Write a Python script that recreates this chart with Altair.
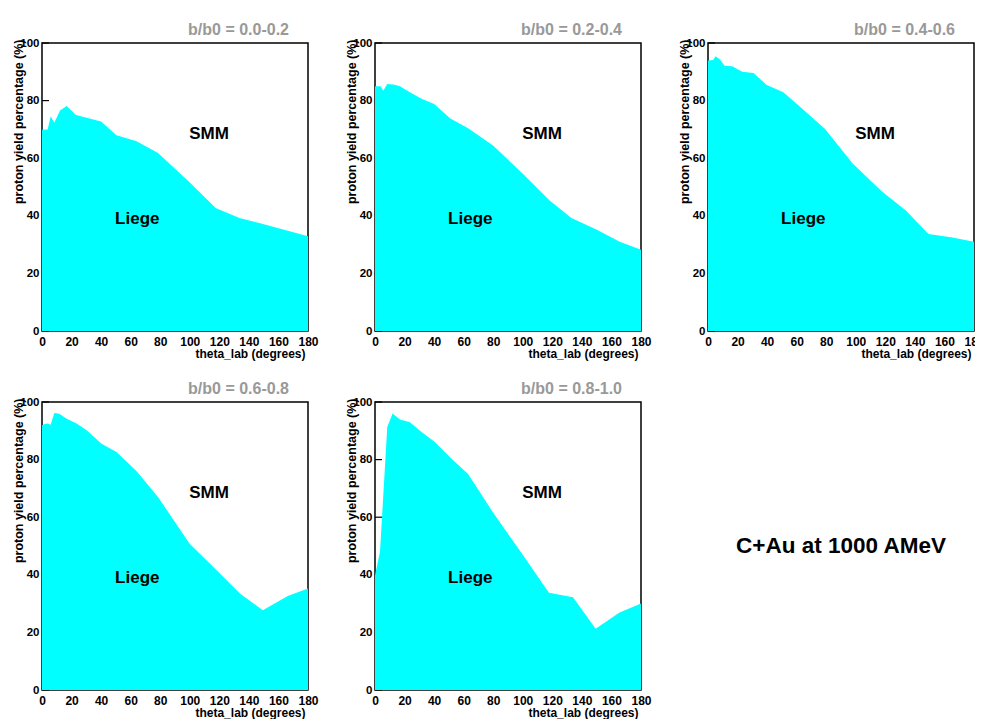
import altair as alt
import pandas as pd

FONT = "Liberation Sans"

panel_titles = ["b/b0 = 0.0-0.2", "b/b0 = 0.2-0.4", "b/b0 = 0.4-0.6",
                "b/b0 = 0.6-0.8", "b/b0 = 0.8-1.0"]

theta_1 = [0, 3.8, 5.9, 8.3, 12.2, 16.7, 23, 40, 50.4, 64, 78.5, 98.8, 117.5, 133.6, 147, 180]
yield_1 = [69.9, 70, 74.6, 72.3, 76.6, 78.1, 75, 72.7, 68, 65.9, 61.8, 52.2, 42.7, 39.2, 37.5, 32.9]

theta_2 = [0, 3.8, 5.6, 8.3, 12.4, 16.9, 23.6, 31.5, 40, 51, 63, 79.9, 100.2, 118.2, 132.9, 149.8, 165.6, 180]
yield_2 = [85, 85, 83.4, 85.8, 85.6, 85, 82.9, 80.6, 78.8, 73.8, 70.4, 64.4, 54.5, 45.3, 39.2, 35.2, 31, 28.2]

theta_3 = [0, 3.4, 5.2, 8.3, 11.2, 16.4, 23.2, 30.8, 39.8, 51, 61.9, 79.2, 97.9, 117.7, 133.9, 149.2, 165.4, 180]
yield_3 = [93.9, 94.1, 95.4, 94.2, 92.1, 91.9, 90, 89.6, 85.4, 82.9, 78, 70.1, 58.2, 48.4, 41.8, 33.7, 32.5, 31]

theta_4 = [0, 2, 3.8, 5.9, 8.3, 11.7, 16.7, 23.4, 30.2, 40.3, 50.4, 63.9, 78.5, 99.9, 117.5, 134.1, 149.4, 166.3, 180]
yield_4 = [91.9, 92.4, 92.5, 92.1, 96.2, 95.9, 94.2, 92.5, 90.2, 85.5, 82.6, 76, 67, 50.8, 41.9, 33.4, 27.7, 32.6, 35.2]

theta_5 = [0, 3.4, 8.3, 11.9, 16.9, 23.6, 31.5, 40.5, 51.8, 63, 79.9, 100.2, 117.7, 134, 149.3, 165.5, 180]
yield_5 = [39.8, 48.1, 91.3, 96, 93.9, 93, 89.6, 86.1, 80.3, 75, 61.6, 46.8, 33.8, 32.2, 21.3, 26.9, 30]

series = [(theta_1, yield_1), (theta_2, yield_2), (theta_3, yield_3),
          (theta_4, yield_4), (theta_5, yield_5)]

x_ticks = [0, 20, 40, 60, 80, 100, 120, 140, 160, 180]
y_ticks = [0, 20, 40, 60, 80, 100]

region_theta = [113, 64.5]
region_pct = [68.3, 38.9]
region_names = ["SMM", "Liege"]

footer_text = ["C+Au at 1000 AMeV"]

W, H = 266, 288


def panel(xs, ys, title):
    df = pd.DataFrame({"theta": xs, "pct": ys})
    xenc = alt.X(
        "theta:Q",
        scale=alt.Scale(domain=[0, 180], nice=False, zero=False),
        axis=alt.Axis(
            values=x_ticks, title="theta_lab (degrees)", grid=False, domain=False,
            ticks=False, labelFlush=False, labelFontSize=12, labelFontWeight="bold",
            labelColor="black", labelFont=FONT, labelPadding=5,
            titleFont=FONT, titleFontSize=12, titleFontWeight="bold", titleColor="black",
            titleX=W - 3, titleY=26, titleAlign="right", titleBaseline="alphabetic",
        ),
    )
    yenc = alt.Y(
        "pct:Q",
        scale=alt.Scale(domain=[0, 100], nice=False, zero=False),
        axis=alt.Axis(
            values=y_ticks, title="proton yield percentage (%)", grid=False, domain=False,
            ticks=False, labelFlush=False, labelFontSize=11.5, labelFontWeight="bold",
            labelColor="black", labelFont=FONT, labelPadding=3,
            titleFont=FONT, titleFontSize=12.5, titleFontWeight="bold", titleColor="black",
            titleX=-17, titleY=-4, titleAngle=270, titleAlign="right", titleBaseline="bottom",
        ),
    )
    tick_df = pd.DataFrame({"pct": y_ticks})
    ticks = alt.Chart(tick_df).mark_rule(color="black", strokeWidth=1.2).encode(
        y=yenc, x=alt.value(0), x2=alt.value(7)
    )
    area = alt.Chart(df).mark_area(color="#00ffff", opacity=1).encode(x=xenc, y=yenc)
    lab_df = pd.DataFrame({"theta": region_theta, "pct": region_pct, "name": region_names})
    labels = alt.Chart(lab_df).mark_text(
        fontSize=17, fontWeight="bold", font=FONT, color="black"
    ).encode(x=xenc, y=yenc, text="name:N")
    return alt.layer(ticks, area, labels).properties(
        width=W, height=H,
        title=alt.TitleParams(
            text=title, anchor="end", frame="group", fontSize=16, fontWeight="bold",
            color="#999999", font=FONT, dx=-19, offset=-14, baseline="alphabetic",
        ),
    )


panels = [panel(xs, ys, t) for (xs, ys), t in zip(series, panel_titles)]

footer = alt.Chart(pd.DataFrame({"t": footer_text})).mark_text(
    fontSize=22.5, fontWeight="bold", font=FONT, color="black"
).encode(text="t:N", x=alt.value(W / 2), y=alt.value(H / 2)).properties(
    width=W, height=H, view=alt.ViewBackground(stroke="transparent")
)

chart = alt.concat(
    *panels, footer, columns=3, spacing={"row": 71, "column": 67}, bounds="flush"
).properties(
    padding={"left": 3, "top": 13, "right": -10, "bottom": 0},
    background="white",
).configure_view(stroke="black", strokeWidth=1.5)

chart.save("out.html", embed_options={"renderer": "svg", "actions": False})
